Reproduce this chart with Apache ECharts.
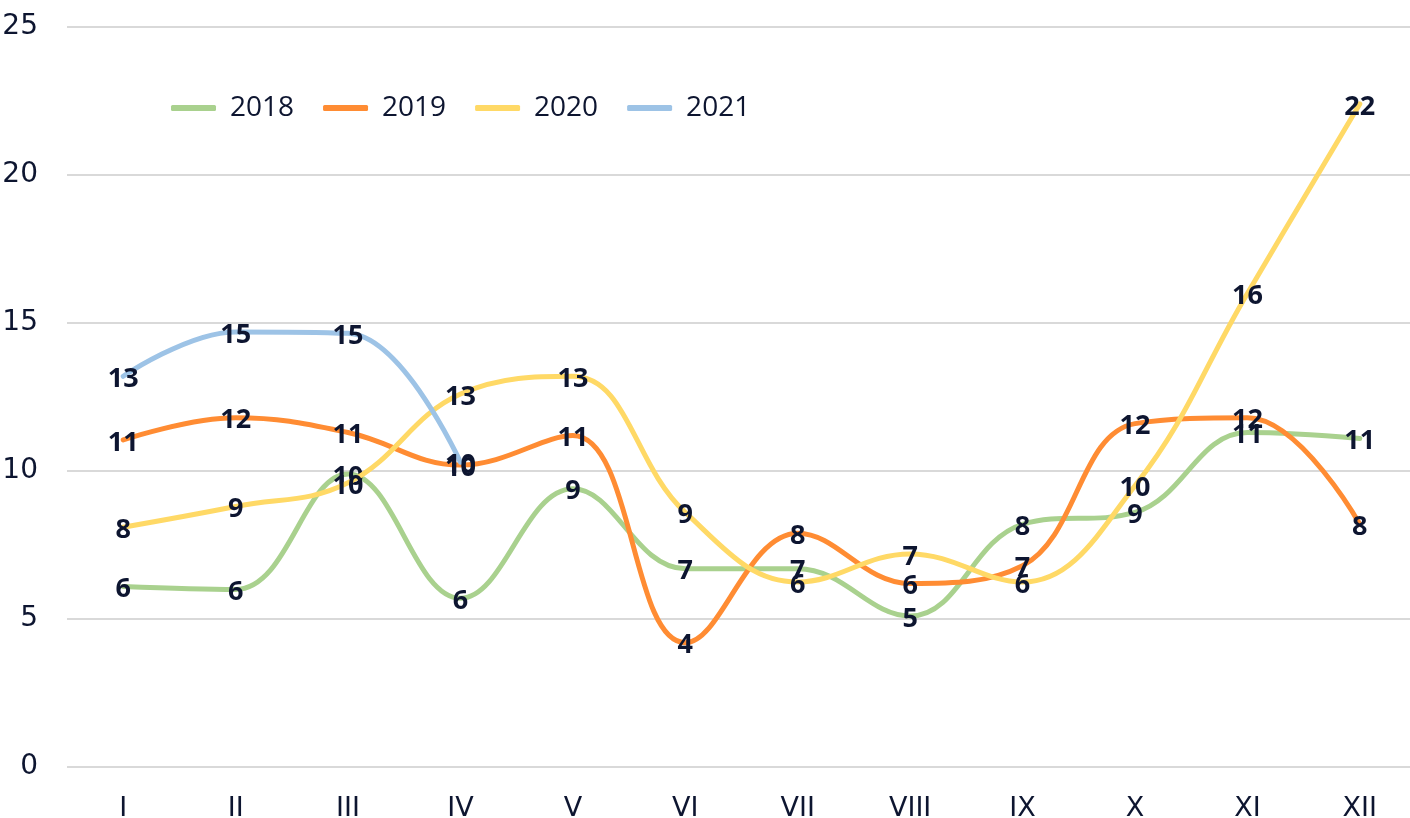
<!DOCTYPE html>
<html>
<head>
<meta charset="utf-8">
<script src="https://cdn.jsdelivr.net/npm/echarts@6/dist/echarts.min.js"></script>
<style>html,body{margin:0;padding:0;background:#fff}#c{width:1410px;height:818px}</style>
</head>
<body>
<div id="c"></div>
<script>
const categories = ['I','II','III','IV','V','VI','VII','VIII','IX','X','XI','XII'];
const years = ['2018','2019','2020','2021'];
const data2018 = [6.1, 6.0, 9.9, 5.7, 9.4, 6.7, 6.7, 5.1, 8.2, 8.6, 11.3, 11.1];
const data2019 = [11.05, 11.8, 11.3, 10.2, 11.2, 4.2, 7.9, 6.2, 6.8, 11.6, 11.8, 8.2];
const data2020 = [8.1, 8.8, 9.6, 12.6, 13.2, 8.6, 6.25, 7.2, 6.25, 9.5, 16.0, 22.4];
const data2021 = [13.2, 14.7, 14.65, 10.3, null, null, null, null, null, null, null, null];
const yTicks = [0, 5, 10, 15, 20, 25];
const colors = ['#A9D18E', '#FF8C33', '#FFD966', '#9DC3E6'];
const seriesData = [data2018, data2019, data2020, data2021];

const chart = echarts.init(document.getElementById('c'), null, {renderer: 'canvas'});
const textDark = '#0D1530';
chart.setOption({
  animation: false,
  backgroundColor: '#fff',
  grid: {left: 67, right: -6, top: 27, bottom: 51, containLabel: false, outerBoundsMode: 'none'},
  legend: {
    data: years.map(y => ({name: y, icon: 'roundRect'})),
    left: 166, top: 89,
    itemWidth: 45, itemHeight: 6, itemGap: 29,
    textStyle: {fontFamily: 'Open Sans', fontSize: 28, color: textDark, padding: [0,0,0,9]}
  },
  xAxis: {
    type: 'category', data: categories, boundaryGap: true,
    axisLine: {show: false}, axisTick: {show: false},
    axisLabel: {fontFamily: 'DejaVu Sans', fontSize: 27, color: textDark, margin: 28}
  },
  yAxis: {
    type: 'value', min: yTicks[0], max: yTicks[yTicks.length-1], interval: 5,
    axisLine: {show: false}, axisTick: {show: false},
    splitLine: {lineStyle: {color: '#D9D9D9', width: 2}},
    axisLabel: {fontFamily: 'DejaVu Sans', fontSize: 28, color: textDark, margin: 29, padding: [6,0,0,0]}
  },
  series: years.map((y, i) => ({
    name: y, type: 'line', data: seriesData[i], smooth: 0.4,
    symbol: 'circle', symbolSize: 0.1, showSymbol: true,
    lineStyle: {color: colors[i], width: 5, cap: 'round'},
    itemStyle: {color: colors[i]},
    label: {
      show: true, position: 'inside',
      formatter: p => p.value == null ? '' : Math.round(p.value),
      fontFamily: 'Open Sans', fontWeight: 'bold', fontSize: 27, color: textDark, offset: [0, 3]
    },
    z: 2 + i
  }))
});
</script>
</body>
</html>
